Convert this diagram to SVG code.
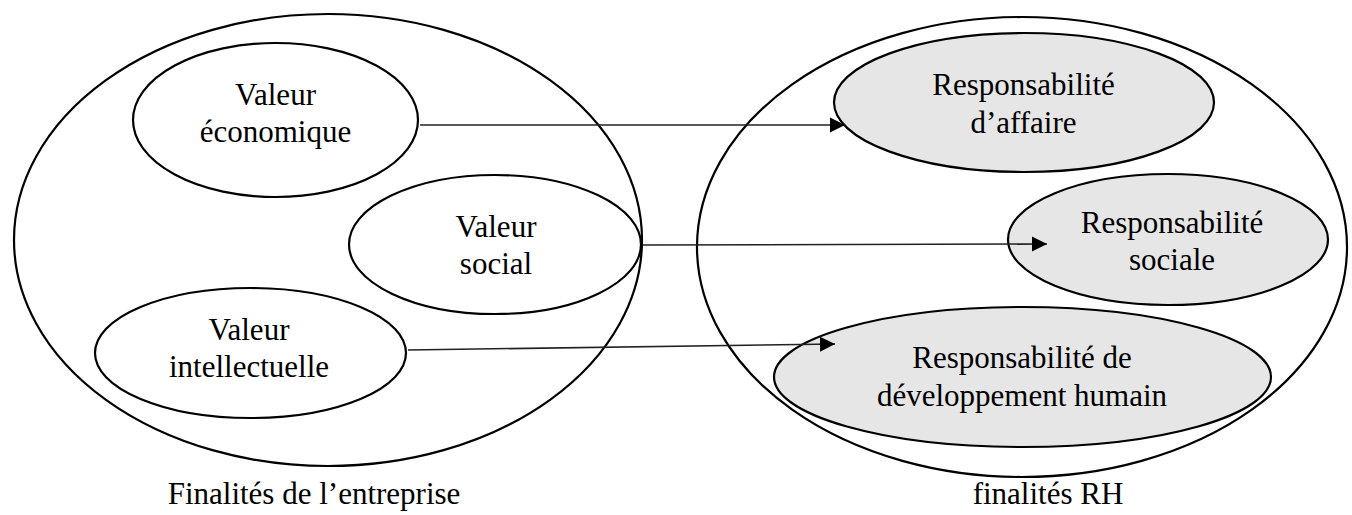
<svg xmlns="http://www.w3.org/2000/svg" width="1352" height="515" viewBox="0 0 1352 515">
  <style>
    .outer { fill: none; stroke: #000; stroke-width: 2.2; }
    .val { fill: #fff; stroke: #000; stroke-width: 2.2; }
    .resp { fill: #e6e6e6; stroke: #000; stroke-width: 2.2; }
    .lbl { font-family: "Liberation Serif", "Times New Roman", serif; font-size: 31px; fill: #000; text-anchor: middle; }
    .link { fill: none; stroke: #222; stroke-width: 1.6; }
  </style>
  <defs>
    <marker id="arrow" markerWidth="16" markerHeight="16" refX="15" refY="8" orient="auto" markerUnits="userSpaceOnUse">
      <path d="M0,0.5 L15,8 L0,15.5 Z" fill="#000"/>
    </marker>
  </defs>

  <rect width="1352" height="515" fill="#fff"/>

  <!-- outer groupings -->
  <g id="finalites-entreprise">
    <ellipse class="outer" cx="328" cy="240" rx="314" ry="226"/>
    <text class="lbl" x="314" y="504">Finalités de l’entreprise</text>
  </g>
  <g id="finalites-rh">
    <ellipse class="outer" cx="1022" cy="247" rx="325" ry="230"/>
    <text class="lbl" x="1048" y="504">finalités RH</text>
  </g>

  <!-- value nodes -->
  <g id="valeur-economique">
    <ellipse class="val" cx="275.5" cy="120" rx="142.5" ry="77"/>
    <text class="lbl" x="275.5" y="105">Valeur</text>
    <text class="lbl" x="275.5" y="142">économique</text>
  </g>
  <g id="valeur-social">
    <ellipse class="val" cx="495" cy="244.5" rx="146" ry="69.5"/>
    <text class="lbl" x="496" y="237">Valeur</text>
    <text class="lbl" x="496" y="274">social</text>
  </g>
  <g id="valeur-intellectuelle">
    <ellipse class="val" cx="250.5" cy="353" rx="155.5" ry="65"/>
    <text class="lbl" x="249" y="340">Valeur</text>
    <text class="lbl" x="249" y="377">intellectuelle</text>
  </g>

  <!-- responsibility nodes -->
  <g id="resp-affaire">
    <ellipse class="resp" cx="1024" cy="102.5" rx="190" ry="69.5"/>
    <text class="lbl" x="1023.5" y="95">Responsabilité</text>
    <text class="lbl" x="1023.5" y="133">d’affaire</text>
  </g>
  <g id="resp-sociale">
    <ellipse class="resp" cx="1168" cy="239.5" rx="160" ry="65.5"/>
    <text class="lbl" x="1172" y="233">Responsabilité</text>
    <text class="lbl" x="1172" y="270">sociale</text>
  </g>
  <g id="resp-developpement">
    <ellipse class="resp" cx="1022.5" cy="377" rx="248.5" ry="70"/>
    <text class="lbl" x="1022" y="368">Responsabilité de</text>
    <text class="lbl" x="1022" y="406">développement humain</text>
  </g>

  <!-- connectors -->
  <g id="connectors">
    <line class="link" x1="420" y1="125" x2="845" y2="125" marker-end="url(#arrow)"/>
    <line class="link" x1="643" y1="245" x2="1047" y2="244" marker-end="url(#arrow)"/>
    <line class="link" x1="408" y1="350" x2="835" y2="344" marker-end="url(#arrow)"/>
  </g>
</svg>
